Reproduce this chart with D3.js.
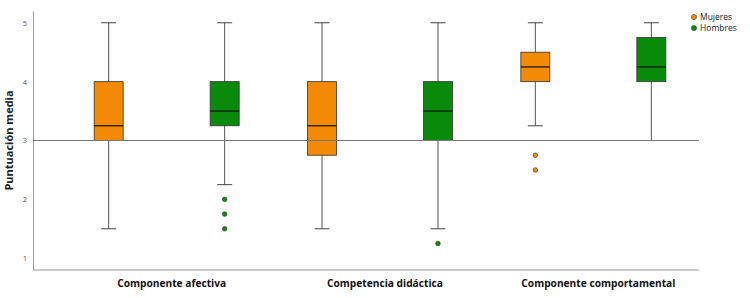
<!DOCTYPE html>
<html lang="es">
<head>
<meta charset="UTF-8">
<title>Boxplot</title>
<script src="https://cdn.jsdelivr.net/npm/d3@7"></script>
<style>
  body { margin: 0; background: #fff; }
  .lbl { font-family: 'Open Sans', 'Liberation Sans', sans-serif; }
</style>
</head>
<body>
<div id="grafico"></div>
<script>
var categorias = ["Componente afectiva", "Competencia didáctica", "Componente comportamental"];
var grupos = ["Mujeres", "Hombres"];
var colores = ["#f28a05", "#0a8a0a"];
var ticksY = [1, 2, 3, 4, 5];

// [min bigote, Q1, mediana, Q3, max bigote] por categoría
var mujeres = [
  [1.5, 3, 3.25, 4, 5],
  [1.5, 2.75, 3.25, 4, 5],
  [3.25, 4, 4.25, 4.5, 5]
];
var hombres = [
  [2.25, 3.25, 3.5, 4, 5],
  [1.5, 3, 3.5, 4, 5],
  [3, 4, 4.25, 4.75, 5]
];
var atipicosMujeres = [[], [], [2.75, 2.5]];
var atipicosHombres = [[2, 1.75, 1.5], [1.25], []];
var referencia = 3;

var w = 750, h = 298;
var svg = d3.select("#grafico").append("svg").attr("width", w).attr("height", h);

var x = d3.scaleBand().domain(categorias).range([60, 700]);
var xg = d3.scaleOrdinal().domain(grupos).range([-58, 58]);
var y = d3.scaleLinear().domain([0.8, 5.2]).range([270, 11]);
var boxW = 29, capW = 15;

// ejes
var ejeY = svg.append("g").attr("transform", "translate(33,0)")
  .call(d3.axisLeft(y).tickValues(ticksY).tickSize(0).tickPadding(6).tickFormat(d3.format("d")));
ejeY.select(".domain").attr("stroke", "#999");
ejeY.selectAll("text").attr("class", "lbl").attr("font-size", 7.5).attr("fill", "#555");

var ejeX = svg.append("g").attr("transform", "translate(0,270)")
  .call(d3.axisBottom(x).tickSize(0).tickPadding(10));
ejeX.select(".domain").attr("d", "M33,0H699").attr("stroke", "#999");
ejeX.selectAll("text").attr("class", "lbl").attr("x", 5).attr("font-size", 10.2).attr("font-weight", "bold").attr("fill", "#111");

svg.append("text").attr("class", "lbl")
  .attr("transform", "translate(13," + y(3) + ") rotate(-90)")
  .attr("text-anchor", "middle").attr("font-size", 11).attr("font-weight", "bold").attr("fill", "#222")
  .text("Puntuación media");

var series = [
  { nombre: grupos[0], datos: mujeres, atipicos: atipicosMujeres, color: colores[0] },
  { nombre: grupos[1], datos: hombres, atipicos: atipicosHombres, color: colores[1] }
];

series.forEach(function(s) {
  var g = svg.append("g");
  var cajas = g.selectAll("g.caja").data(s.datos).enter().append("g")
    .attr("transform", function(d, i) { return "translate(" + (x(categorias[i]) + x.bandwidth() / 2 + xg(s.nombre)) + ",0)"; });

  cajas.append("line").attr("x1", 0).attr("x2", 0)
    .attr("y1", function(d) { return y(d[0]); }).attr("y2", function(d) { return y(d[4]); })
    .attr("stroke", "#555").attr("stroke-width", 1);
  cajas.append("line").attr("x1", -capW / 2).attr("x2", capW / 2)
    .attr("y1", function(d) { return y(d[0]); }).attr("y2", function(d) { return y(d[0]); })
    .attr("stroke", "#444").attr("stroke-width", 1);
  cajas.append("line").attr("x1", -capW / 2).attr("x2", capW / 2)
    .attr("y1", function(d) { return y(d[4]); }).attr("y2", function(d) { return y(d[4]); })
    .attr("stroke", "#444").attr("stroke-width", 1);
  cajas.append("rect").attr("x", -boxW / 2).attr("width", boxW)
    .attr("y", function(d) { return y(d[3]); })
    .attr("height", function(d) { return y(d[1]) - y(d[3]); })
    .attr("fill", s.color).attr("stroke", "#333").attr("stroke-width", 0.8);
  cajas.append("line").attr("x1", -boxW / 2).attr("x2", boxW / 2)
    .attr("y1", function(d) { return y(d[2]); }).attr("y2", function(d) { return y(d[2]); })
    .attr("stroke", "#111").attr("stroke-width", 1.2);

  cajas.each(function(d, i) {
    d3.select(this).selectAll("circle").data(s.atipicos[i]).enter().append("circle")
      .attr("cx", 0).attr("cy", function(v) { return y(v); }).attr("r", 2.3)
      .attr("fill", s.color).attr("stroke", "#333").attr("stroke-width", 0.6);
  });
});

// línea de referencia
svg.append("line").attr("x1", 33).attr("x2", 699)
  .attr("y1", y(referencia)).attr("y2", y(referencia))
  .attr("stroke", "#777").attr("stroke-width", 1);

// leyenda
var ley = svg.append("g").attr("transform", "translate(694,17)");
var items = ley.selectAll("g").data(grupos).enter().append("g")
  .attr("transform", function(d, i) { return "translate(0," + i * 11 + ")"; });
items.append("circle").attr("r", 2.6).attr("fill", function(d, i) { return colores[i]; })
  .attr("stroke", "#333").attr("stroke-width", 0.5);
items.append("text").attr("class", "lbl").attr("x", 6).attr("dy", "0.35em")
  .attr("font-size", 8.5).attr("fill", "#222").text(function(d) { return d; });
</script>
</body>
</html>
